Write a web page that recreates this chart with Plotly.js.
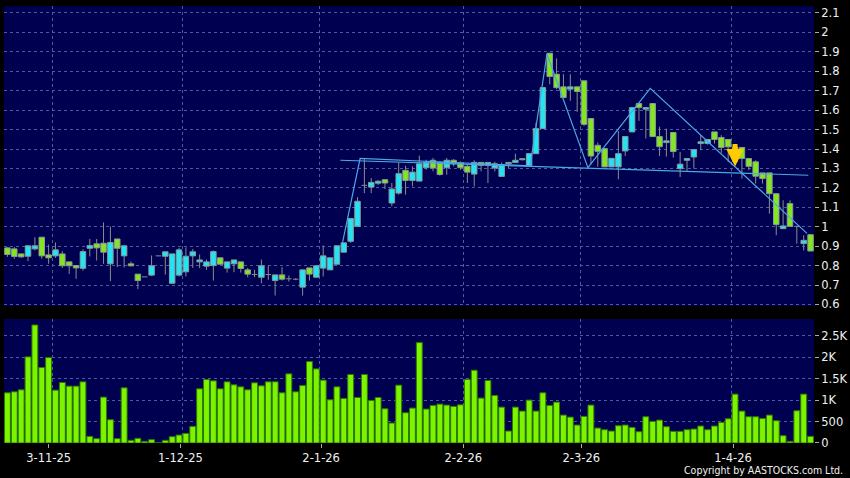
<!DOCTYPE html>
<html><head><meta charset="utf-8">
<script src="https://cdn.plot.ly/plotly-3.0.1.min.js"></script>
<style>html,body{margin:0;padding:0;background:#000;}#chart{width:850px;height:478px;}</style>
</head><body><div id="chart"></div>
<script>
const openP  = [0.891,0.886,0.860,0.848,0.886,0.946,0.855,0.850,0.860,0.819,0.800,0.786,0.889,0.912,0.915,0.809,0.937,0.850,0.809,0.756,0.742,0.751,0.850,0.848,0.709,0.751,0.768,0.850,0.819,0.797,
0.800,0.840,0.787,0.809,0.819,0.778,0.754,0.740,0.754,0.723,0.752,0.732,0.730,0.689,0.788,0.740,0.787,0.778,0.807,0.869,
0.925,1.002,1.213,1.204,1.224,1.242,1.122,1.173,1.290,1.238,1.235,1.304,1.342,1.331,1.304,1.342,1.328,1.311,1.271,1.331,
1.316,1.302,1.259,1.324,1.331,1.345,1.314,1.376,1.505,1.893,1.785,1.720,1.708,1.720,1.751,1.557,1.419,1.402,1.308,1.308,
1.390,1.488,1.634,1.605,1.634,1.464,1.433,1.485,1.299,1.342,1.359,1.428,1.428,1.488,1.459,1.449,1.385,1.408,1.351,1.334,
1.277,1.277,1.170,0.990,1.119,1.002,0.913,0.959];
const highP  = [0.895,0.895,0.862,0.902,0.946,0.946,0.908,0.919,0.874,0.819,0.800,0.884,0.937,0.937,1.022,1.001,0.937,0.902,0.821,0.756,0.742,0.852,0.850,0.871,0.860,0.891,0.894,0.886,0.857,0.831,
0.878,0.840,0.819,0.829,0.819,0.788,0.778,0.831,0.800,0.752,0.792,0.749,0.735,0.778,0.788,0.799,0.903,0.840,0.905,0.917,
1.042,1.152,1.354,1.250,1.240,1.242,1.225,1.331,1.314,1.311,1.366,1.345,1.354,1.331,1.354,1.348,1.336,1.319,1.342,1.331,
1.331,1.335,1.331,1.331,1.376,1.352,1.376,1.536,1.716,1.893,1.866,1.785,1.785,1.720,1.751,1.557,1.433,1.402,1.352,1.493,
1.464,1.613,1.634,1.613,1.634,1.515,1.505,1.485,1.385,1.351,1.397,1.471,1.449,1.488,1.471,1.449,1.420,1.408,1.351,1.342,
1.277,1.277,1.170,1.136,1.136,1.002,0.956,0.959];
const lowP   = [0.845,0.835,0.840,0.823,0.878,0.835,0.809,0.840,0.788,0.757,0.732,0.774,0.847,0.826,0.809,0.720,0.792,0.790,0.795,0.679,0.742,0.746,0.850,0.754,0.709,0.744,0.744,0.788,0.787,0.778,
0.723,0.807,0.764,0.766,0.764,0.740,0.740,0.709,0.727,0.646,0.723,0.718,0.725,0.646,0.723,0.740,0.744,0.778,0.807,0.869,
0.917,1.002,1.173,1.173,1.215,1.194,1.105,1.165,1.165,1.208,1.235,1.293,1.285,1.263,1.268,1.311,1.293,1.225,1.208,1.285,
1.225,1.285,1.259,1.302,1.331,1.340,1.314,1.376,1.505,1.733,1.708,1.665,1.648,1.591,1.519,1.321,1.309,1.308,1.308,1.244,
1.364,1.488,1.545,1.454,1.464,1.364,1.361,1.356,1.256,1.287,1.299,1.394,1.423,1.428,1.380,1.334,1.370,1.248,1.291,1.222,
1.222,1.067,0.956,0.990,1.002,0.913,0.878,0.875];
const closeP = [0.857,0.847,0.845,0.902,0.902,0.850,0.840,0.881,0.799,0.799,0.788,0.872,0.903,0.891,0.869,0.919,0.889,0.902,0.799,0.723,0.742,0.799,0.850,0.871,0.860,0.881,0.848,0.871,0.829,0.819,
0.872,0.807,0.819,0.829,0.785,0.756,0.754,0.799,0.754,0.752,0.730,0.732,0.730,0.778,0.756,0.799,0.850,0.840,0.902,0.917,
1.042,1.131,1.213,1.228,1.234,1.225,1.194,1.273,1.238,1.281,1.324,1.331,1.302,1.269,1.342,1.324,1.304,1.281,1.331,1.316,
1.331,1.324,1.319,1.331,1.342,1.350,1.376,1.505,1.716,1.773,1.716,1.665,1.720,1.696,1.527,1.364,1.388,1.308,1.352,1.376,
1.464,1.613,1.613,1.613,1.464,1.412,1.442,1.387,1.322,1.351,1.397,1.437,1.449,1.449,1.408,1.411,1.410,1.351,1.311,1.260,
1.248,1.170,1.011,1.004,1.002,1.002,0.930,0.875];
const volume = [1172,1195,1242,2010,2755,1762,1994,1234,1412,1327,1327,1428,155,101,1071,543,101,1288,62,109,39,78,5,62,147,186,225,388,1265,1482,
1451,1265,1428,1358,1311,1242,1405,1335,1428,1428,1172,1614,1195,1342,1901,1730,1467,1009,1311,1040,
1599,1063,1599,993,1063,799,466,1350,706,815,2344,792,877,908,885,854,892,1482,1699,1048,
1459,1110,838,279,838,745,1001,745,1172,877,954,652,605,419,621,885,349,310,279,404,
419,365,264,613,504,535,380,272,272,310,326,396,310,396,481,566,1141,745,613,613,
574,652,520,171,39,753,1141,155];
const tickLabels = ['3-11-25','1-12-25','2-1-26','2-2-26','2-3-26','1-4-26'];
const tickIdx = [6, 25.2, 45.7, 66.4, 83.6, 105.7];
const monthGridIdx = [6.5, 25.5, 45.5, 66.5, 83.5, 105.5];
const priceTicks = [0.6,0.7,0.8,0.9,1,1.1,1.2,1.3,1.4,1.5,1.6,1.7,1.8,1.9,2,2.1];
const volTicks = [0, 500, 1000, 1500, 2000, 2500];
const volTickText = ['0','500','1K','1.5K','2K','2.5K'];
const patternX = [48.8, 51.38, 76.15, 78.6, 84.56, 93.64, 116.48];
const patternY = [0.915, 1.352, 1.313, 1.889, 1.304, 1.712, 0.966];
const necklineX = [48.5, 116.67];
const necklineY = [1.342, 1.265];
const signalIdx = 106, signalPrice = 1.31;

const UP = '#22e4f2', DOWN = '#84e620', WICK = '#8c8c8c', GRID = '#4e5aa0';
const idx = openP.map((_, i) => i);
const up = idx.filter(i => closeP[i] > openP[i]);
const dn = idx.filter(i => closeP[i] < openP[i]);
const dj = idx.filter(i => closeP[i] === openP[i]);
const BW = 0.8;

const wx = [], wy = [];
idx.forEach(i => {
  const top = Math.max(openP[i], closeP[i]), bot = Math.min(openP[i], closeP[i]);
  if (highP[i] > top) { wx.push(i, i, null); wy.push(top, highP[i], null); }
  if (lowP[i] < bot) { wx.push(i, i, null); wy.push(lowP[i], bot, null); }
});
dj.forEach(i => { wx.push(i - BW/2, i + BW/2, null); wy.push(openP[i], openP[i], null); });

function bodyTrace(list, color) {
  return {type:'bar', x:list, base:list.map(i => Math.min(openP[i], closeP[i])),
    y:list.map(i => Math.abs(closeP[i] - openP[i])), width:BW,
    marker:{color:color, line:{color:'#8a9a9a', width:1}}, xaxis:'x', yaxis:'y', hoverinfo:'skip'};
}

const traces = [
  bodyTrace(up, UP), bodyTrace(dn, DOWN),
  {type:'scatter', mode:'lines', x:wx, y:wy, line:{color:WICK, width:1}, xaxis:'x', yaxis:'y', hoverinfo:'skip', connectgaps:false},
  {type:'scatter', mode:'lines', x:necklineX, y:necklineY, line:{color:'#4aa8e6', width:1.2}, xaxis:'x', yaxis:'y', hoverinfo:'skip'},
  {type:'scatter', mode:'lines', x:patternX, y:patternY, line:{color:'#4aa8e6', width:1.2}, xaxis:'x', yaxis:'y', hoverinfo:'skip'},
  {type:'bar', x:idx, y:volume, width:0.86, marker:{color:'#7cf400', line:{color:'#2f7a00', width:1}}, xaxis:'x2', yaxis:'y2', hoverinfo:'skip'},
  {type:'scatter', mode:'markers', x:tickIdx, y:tickIdx.map(() => 0), marker:{opacity:0}, xaxis:'x3', yaxis:'y2', hoverinfo:'skip'}
];

const tf = {family:'DejaVu Sans, Verdana, sans-serif', size:11.5, color:'#f0f0f0'};
const gridCommon = {showgrid:true, gridcolor:GRID, griddash:'3px,3px', gridwidth:1, zeroline:false, showline:false, fixedrange:true};
const layout = {
  width:850, height:478, paper_bgcolor:'#000000', plot_bgcolor:'#000050',
  margin:{l:4, r:36, t:6, b:35}, showlegend:false, barmode:'overlay', bargap:0,
  font:tf,
  xaxis: Object.assign({domain:[0,1], range:[-0.5,117.5], anchor:'y', tickvals:monthGridIdx, showticklabels:false, ticks:''}, gridCommon),
  yaxis: Object.assign({domain:[0.3135,1], range:[0.592,2.136], side:'right', anchor:'x', tickvals:priceTicks,
    ticks:'outside', ticklen:4, tickcolor:'#aaaaaa', tickfont:tf}, gridCommon),
  xaxis2: Object.assign({domain:[0,1], range:[-0.5,117.5], anchor:'y2', tickvals:monthGridIdx, showticklabels:false, ticks:''}, gridCommon),
  yaxis2: Object.assign({domain:[0,0.2838], range:[0,2895], side:'right', anchor:'x2', tickvals:volTicks, ticktext:volTickText,
    ticks:'outside', ticklen:4, tickcolor:'#aaaaaa', tickfont:tf}, gridCommon),
  xaxis3: {overlaying:'x2', anchor:'y2', side:'bottom', range:[-0.5,117.5], tickvals:tickIdx, ticktext:tickLabels,
    ticks:'outside', ticklen:4, tickcolor:'#aaaaaa', tickfont:tf, showgrid:false, zeroline:false, showline:false, fixedrange:true},
  annotations:[
    {x:signalIdx, y:signalPrice, xref:'x', yref:'y', ax:0, ay:-24, text:'', showarrow:true,
     arrowcolor:'#ffcc00', arrowwidth:5, arrowhead:2, arrowsize:0.7},
    {xref:'paper', yref:'paper', x:1.038, y:-0.062, xanchor:'right', yanchor:'middle', showarrow:false,
     text:'Copyright by AASTOCKS.com Ltd.', font:{family:'DejaVu Sans Condensed, DejaVu Sans, sans-serif', size:10.5, color:'#f0f0f0'}}
  ]
};
Plotly.newPlot('chart', traces, layout, {staticPlot:true, displayModeBar:false});
</script>
</body></html>
